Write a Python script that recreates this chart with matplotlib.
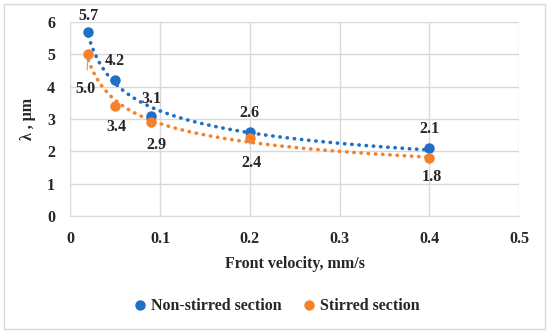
import numpy as np
import matplotlib
matplotlib.use('Agg')
import matplotlib.pyplot as plt
from matplotlib.patches import Rectangle

# data
velocity = [0.02, 0.05, 0.09, 0.2, 0.4]
non_stirred = [5.7, 4.2, 3.1, 2.6, 2.1]
stirred = [5.0, 3.4, 2.9, 2.4, 1.8]

x_ticks = [0, 0.1, 0.2, 0.3, 0.4, 0.5]
y_ticks = [0, 1, 2, 3, 4, 5, 6]

blue = '#1f6fc5'
orange = '#f5812a'
txt = '#262626'

plt.rcParams['font.family'] = ['Liberation Serif', 'DejaVu Serif']
plt.rcParams['font.weight'] = 'bold'
plt.rcParams['axes.labelweight'] = 'bold'
fs = 11.5

fig = plt.figure(figsize=(5.5, 3.34), dpi=100)
ax = fig.add_axes([0.128, 0.353, 0.816, 0.581])

# power trendlines fitted from the data (Excel style)
xs = np.linspace(min(velocity), max(velocity), 300)
for ys, c in [(non_stirred, blue), (stirred, orange)]:
    b, lna = np.polyfit(np.log(velocity), np.log(ys), 1)
    ax.plot(xs, np.exp(lna) * xs ** b, color=c, lw=2.6, ls=(0, (0.1, 1.9)),
            dash_capstyle='round', zorder=2)

ax.plot(velocity, non_stirred, 'o', color=blue, ms=6.5, zorder=3, label='Non-stirred section')
ax.plot(velocity, stirred, 'o', color=orange, ms=6.5, zorder=3, label='Stirred section')

# data labels, offsets in points
blue_off = [(0, 11), (0, 14), (0, 12), (0, 14), (0, 14)]
orange_off = [(-2, -25), (1, -15), (4, -16), (1, -18), (2, -14)]
leader = [True, False, True, True, False]
for x, y, off in zip(velocity, non_stirred, blue_off):
    ax.annotate(f'{y:.1f}', (x, y), xytext=off, textcoords='offset points',
                ha='center', va='center', fontsize=fs, color=txt)
for x, y, off, ld in zip(velocity, stirred, orange_off, leader):
    ap = dict(arrowstyle='-', color='#a6a6a6', lw=0.8, shrinkA=6, shrinkB=3) if ld else None
    ax.annotate(f'{y:.1f}', (x, y), xytext=off, textcoords='offset points',
                ha='center', va='center', fontsize=fs, color=txt, arrowprops=ap)

ax.set_xlim(0, 0.5)
ax.set_ylim(0, 6)
ax.set_xticks(x_ticks)
ax.set_xticklabels(['0', '0.1', '0.2', '0.3', '0.4', '0.5'])
ax.set_yticks(y_ticks)
ax.tick_params(length=0, labelsize=fs, colors=txt, pad=11)
ax.tick_params(axis='y', pad=11)
ax.grid(True, color='#d9d9d9', lw=1)
ax.set_axisbelow(True)
for s in ax.spines.values():
    s.set_visible(False)
ax.spines['bottom'].set_visible(True)
ax.spines['bottom'].set_color('#d9d9d9')

ax.set_xlabel('Front velocity, mm/s', fontsize=fs, color=txt, labelpad=6)
ax.set_ylabel('λ , μm', fontsize=fs, color=txt, labelpad=8)

fig.legend(loc='center', bbox_to_anchor=(0.5, 0.083), ncol=2, frameon=False,
           fontsize=fs, handletextpad=0.1, columnspacing=1.1, handlelength=1.2,
           labelcolor=txt)

fig.patches.append(Rectangle((4 / 550, 5 / 334), 541 / 550, 325 / 334, transform=fig.transFigure,
                             fill=False, edgecolor='#d9d9d9', lw=1))

fig.savefig('out.png', dpi=100)
